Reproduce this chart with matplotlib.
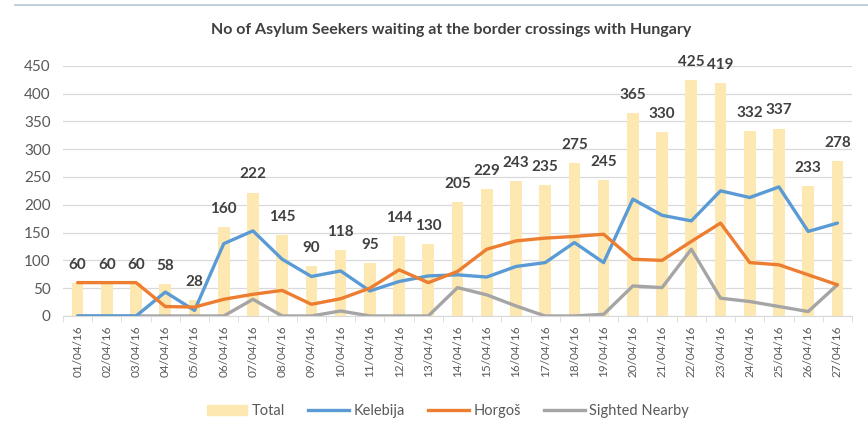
import numpy as np
import matplotlib
matplotlib.use("Agg")
import matplotlib.pyplot as plt
from matplotlib.lines import Line2D

plt.rcParams['font.family'] = ['Lato', 'DejaVu Sans']

dates = ['01/04/16', '02/04/16', '03/04/16', '04/04/16', '05/04/16', '06/04/16',
         '07/04/16', '08/04/16', '09/04/16', '10/04/16', '11/04/16', '12/04/16',
         '13/04/16', '14/04/16', '15/04/16', '16/04/16', '17/04/16', '18/04/16',
         '19/04/16', '20/04/16', '21/04/16', '22/04/16', '23/04/16', '24/04/16',
         '25/04/16', '26/04/16', '27/04/16']
total = [60, 60, 60, 58, 28, 160, 222, 145, 90, 118, 95, 144, 130, 205, 229,
         243, 235, 275, 245, 365, 330, 425, 419, 332, 337, 233, 278]
kelebija = [0, 0, 0, 43, 10, 130, 153, 102, 71, 81, 45, 62, 72, 74, 70,
            89, 96, 132, 96, 210, 181, 171, 225, 213, 232, 152, 167]
horgos = [60, 60, 60, 17, 16, 30, 39, 46, 21, 31, 50, 83, 60, 80, 120,
          135, 140, 143, 147, 102, 100, 134, 167, 96, 92, 74, 56]
sighted = [0, 0, 0, 0, 0, 0, 30, 0, 0, 9, 0, 0, 0, 51, 38,
           18, 0, 0, 3, 54, 51, 120, 32, 26, 17, 8, 56]

bar_color = '#FCE8B0'
blue = '#5B9BD5'
orange = '#ED7D31'
gray = '#A5A5A5'
text_gray = '#595959'

fig = plt.figure(figsize=(8.68, 4.23), dpi=100)
ax = fig.add_axes([0.0726, 0.253, 0.909, 0.5917])

x = np.arange(len(dates))
ax.bar(x, total, width=0.4, color=bar_color, zorder=1)
ax.plot(x, kelebija, color=blue, lw=2.4, zorder=3, solid_capstyle='round')
ax.plot(x, horgos, color=orange, lw=2.4, zorder=3, solid_capstyle='round')
ax.plot(x, sighted, color=gray, lw=2.4, zorder=2, solid_capstyle='round')

for xi, v in zip(x, total):
    ax.annotate(str(v), (xi, v), xytext=(0, 13), textcoords='offset points',
                ha='center', va='center', fontsize=11, fontweight='bold',
                color='#404040', zorder=4)

ax.set_xlim(-0.5, len(dates) - 0.5)
ax.set_ylim(0, 450)
ax.set_yticks(range(0, 451, 50))
ax.yaxis.grid(True, color='#D9D9D9', lw=0.9)
ax.set_axisbelow(True)
ax.set_xticks(x)
ax.set_xticklabels(dates, rotation=90, fontsize=8.5, color=text_gray)
ax.set_xticks(np.arange(-0.5, len(dates), 1), minor=True)
ax.tick_params(axis='x', which='major', length=0, pad=7)
ax.tick_params(axis='x', which='minor', length=4, color='#D9D9D9')
ax.tick_params(axis='y', length=0, labelsize=11, labelcolor=text_gray, pad=9)
for s in ['top', 'right', 'left']:
    ax.spines[s].set_visible(False)
ax.spines['bottom'].set_color('#D9D9D9')

fig.text(0.52, 0.928, 'No of Asylum Seekers waiting at the border crossings with Hungary',
         ha='center', va='center', fontsize=11.5, fontweight='bold', color='#404040')

# thin frame line at top
fig.add_artist(Line2D([0.017, 1.0], [0.988, 0.988], color='#B4C7D7', lw=1.2))

handles = [plt.Rectangle((0, 0), 1, 1, color=bar_color),
           Line2D([], [], color=blue, lw=2.4),
           Line2D([], [], color=orange, lw=2.4),
           Line2D([], [], color=gray, lw=2.4)]
fig.legend(handles, ['Total', 'Kelebija', 'Horgoš', 'Sighted Nearby'],
           loc='center', bbox_to_anchor=(0.516, 0.028), ncol=4, frameon=False,
           fontsize=10.5, labelcolor=text_gray, handlelength=2.8,
           handletextpad=0.3, columnspacing=1.6)

fig.savefig('out.png', dpi=100)
